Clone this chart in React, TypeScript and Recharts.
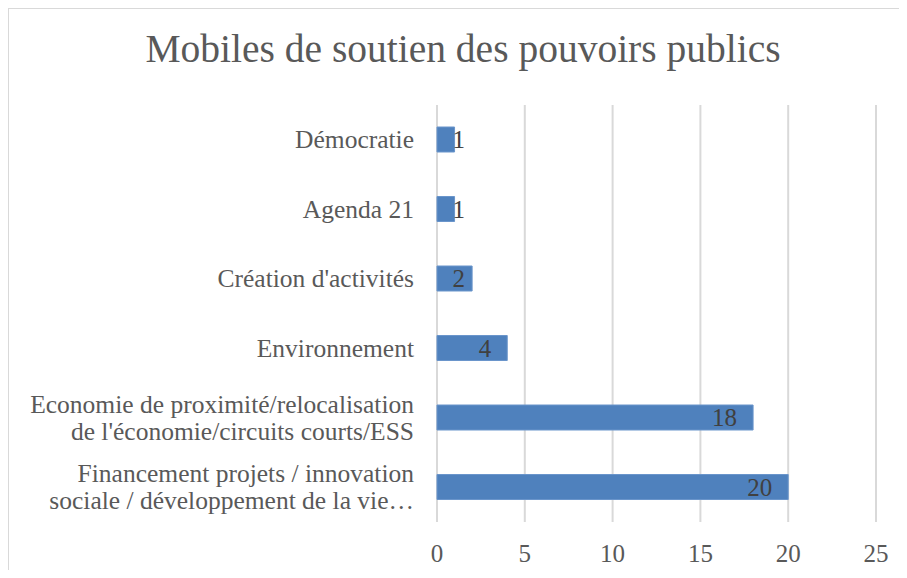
import React from 'react';
import { BarChart, Bar, XAxis, YAxis, CartesianGrid, LabelList } from 'recharts';

const categories = [
  'Démocratie',
  'Agenda 21',
  "Création d'activités",
  'Environnement',
  "Economie de proximité/relocalisation\nde l'économie/circuits courts/ESS",
  'Financement projets / innovation\nsociale / développement de la vie…',
];
const values = [1, 1, 2, 4, 18, 20];
const xTicks = [0, 5, 10, 15, 20, 25];
const title = 'Mobiles de soutien des pouvoirs publics';

const data = categories.map((c, i) => ({ name: c, value: values[i] }));

const FONT = '"Liberation Serif", "Times New Roman", serif';
const TEXT = '#595959';

const YTick = (props: any) => {
  const { x, y, payload } = props;
  const lines: string[] = String(payload.value).split('\n');
  const lh = 27;
  return (
    <g>
      {lines.map((l, i) => (
        <text
          key={i}
          x={x}
          y={y + (i - (lines.length - 1) / 2) * lh}
          dy="0.33em"
          textAnchor="end"
          fontFamily={FONT}
          fontSize={25.5}
          fill={TEXT}
        >
          {l}
        </text>
      ))}
    </g>
  );
};

const XTick = (props: any) => {
  const { x, payload } = props;
  return (
    <text x={x} y={562} textAnchor="middle" fontFamily={FONT} fontSize={25} fill={TEXT}>
      {payload.value}
    </text>
  );
};

const ValueLabel = (props: any) => {
  const { x, y, width, height, value } = props;
  const right = Math.max(x + width - 16, x + 28);
  return (
    <text
      x={right}
      y={y + height / 2}
      dy="0.35em"
      textAnchor="end"
      fontFamily={FONT}
      fontSize={25}
      fill="#404040"
    >
      {value}
    </text>
  );
};

export default function App() {
  return (
    <div style={{ position: 'relative', margin: -8, width: 907, height: 578, background: '#fff', overflow: 'hidden' }}>
      <div
        style={{
          position: 'absolute',
          left: 7,
          top: 7,
          width: 1000,
          height: 700,
          borderTop: '2px solid #d9d9d9',
          borderLeft: '2px solid #d9d9d9',
        }}
      />
      <div style={{ position: 'absolute', left: 0, top: 0 }}>
        <BarChart
          width={907}
          height={578}
          data={data}
          layout="vertical"
          margin={{ top: 105, right: 31, bottom: 26, left: 0 }}
        >
          <text x={463} y={62} textAnchor="middle" fontFamily={FONT} fontSize={39.5} fill={TEXT}>
            {title}
          </text>
          <CartesianGrid horizontal={false} stroke="#d9d9d9" strokeWidth={2} />
          <XAxis
            type="number"
            domain={[0, 25]}
            ticks={xTicks}
            axisLine={false}
            tickLine={false}
            height={30}
            tick={<XTick />}
            interval={0}
          />
          <YAxis
            type="category"
            dataKey="name"
            width={437}
            axisLine={false}
            tickLine={false}
            tickSize={0}
            tickMargin={23}
            tick={<YTick />}
            interval={0}
          />
          <Bar dataKey="value" fill="#4f81bd" stroke="#6a95cb" strokeWidth={1} barSize={25} isAnimationActive={false}>
            <LabelList dataKey="value" content={<ValueLabel />} />
          </Bar>
        </BarChart>
      </div>
    </div>
  );
}
